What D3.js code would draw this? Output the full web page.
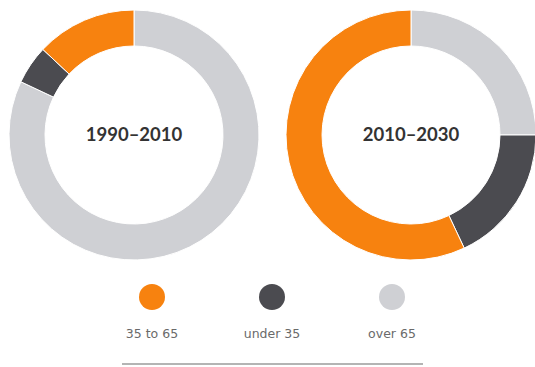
<!DOCTYPE html>
<html>
<head>
<meta charset="utf-8">
<script src="https://cdn.jsdelivr.net/npm/d3@7"></script>
<style>
  body { margin: 0; background: #fff; }
  svg { display: block; }
</style>
</head>
<body>
<svg width="535" height="367"></svg>
<script>
// order is clockwise from 12 o'clock
const groups = ["over 65", "under 35", "35 to 65"];
const periods = ["1990–2010", "2010–2030"];
const share1990 = [82, 5, 13];
const share2010 = [25, 18, 57];
const legendOrder = ["35 to 65", "under 35", "over 65"];

const colors = d3.scaleOrdinal()
    .domain(groups)
    .range(["#cfd0d4", "#4b4b50", "#f7820f"]);

const svg = d3.select("svg");

const pie = d3.pie().sort(null).value(d => d);
const arc = d3.arc().innerRadius(89).outerRadius(125);

const centers = d3.scalePoint().domain(periods).range([134, 411]);

[share1990, share2010].forEach((vals, i) => {
    const g = svg.append("g")
        .attr("transform", `translate(${centers(periods[i])},135)`);

    g.selectAll("path")
        .data(pie(vals))
        .enter().append("path")
        .attr("d", arc)
        .attr("fill", (d, j) => colors(groups[j]))
        .attr("stroke", "#fff")
        .attr("stroke-width", 1);

    g.append("text")
        .attr("text-anchor", "middle")
        .attr("dy", "0.35em")
        .attr("font-family", "Lato, 'Noto Sans', sans-serif")
        .attr("font-weight", "bold")
        .attr("font-size", 18.5)
        .attr("fill", "#333")
        .text(periods[i]);
});

// legend
const lx = d3.scalePoint().domain(legendOrder).range([152, 392]);
const legend = svg.append("g");

legend.selectAll("circle")
    .data(legendOrder)
    .enter().append("circle")
    .attr("cx", d => lx(d))
    .attr("cy", 297)
    .attr("r", 13)
    .attr("fill", d => colors(d));

legend.selectAll("text")
    .data(legendOrder)
    .enter().append("text")
    .attr("x", d => lx(d))
    .attr("y", 338)
    .attr("text-anchor", "middle")
    .attr("font-family", "'DejaVu Sans', sans-serif")
    .attr("font-size", 12.5)
    .attr("fill", "#6a6a6a")
    .text(d => d);

svg.append("line")
    .attr("x1", 122).attr("x2", 423)
    .attr("y1", 364).attr("y2", 364)
    .attr("stroke", "#b4b4b4")
    .attr("stroke-width", 2);
</script>
</body>
</html>
